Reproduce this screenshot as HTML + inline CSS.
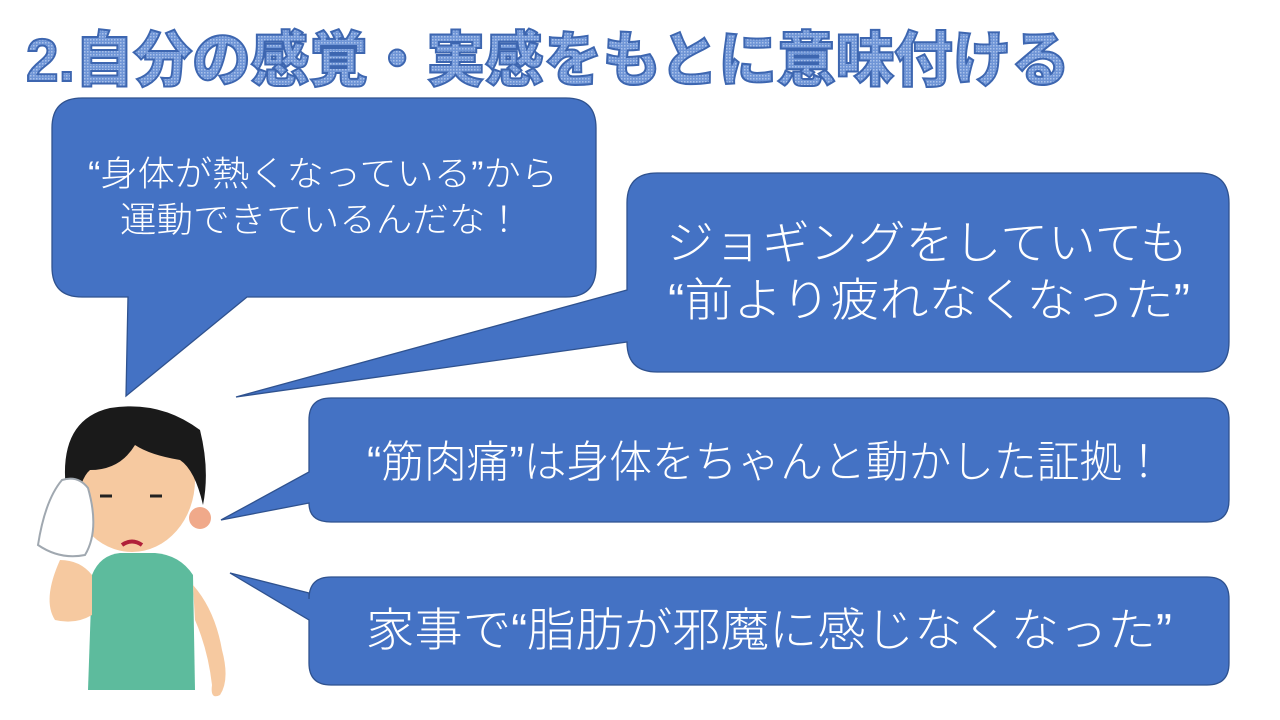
<!DOCTYPE html>
<html><head><meta charset="utf-8"><style>
html,body{margin:0;padding:0;background:#fff;}
svg{display:block}
.t{font-family:"Liberation Sans","Noto Sans CJK JP",sans-serif;font-weight:300;fill:#fff;}
</style></head><body>
<svg width="1280" height="720" viewBox="0 0 1280 720" xmlns="http://www.w3.org/2000/svg">
<defs>
<pattern id="dots" width="3" height="3" patternUnits="userSpaceOnUse">
<rect width="3" height="3" fill="#6f95d6"/><rect width="1.5" height="1.5" fill="#a9c1ea"/>
</pattern>
</defs>
<text x="26" y="81" font-family="'Liberation Sans','Noto Sans CJK JP',sans-serif" font-weight="900" font-size="60" fill="url(#dots)" stroke="#3d66b0" stroke-width="2" textLength="1044" lengthAdjust="spacingAndGlyphs">2.自分の感覚・実感をもとに意味付ける</text>

<g fill="#4472C4" stroke="#2F528F" stroke-width="1.3">
<path d="M82,98 H566 Q596,98 596,128 V267 Q596,297 566,297 H247 L126,396 L128,297 H82 Q52,297 52,267 V128 Q52,98 82,98 Z"/>
<path d="M657,173 H1199 Q1229,173 1229,203 V342 Q1229,372 1199,372 H657 Q627,372 627,342 L236,397 L627,290 V203 Q627,173 657,173 Z"/>
<path d="M331,398 H1207 Q1229,398 1229,420 V500 Q1229,522 1207,522 H331 Q309,522 309,503 L221,520 L309,472 V420 Q309,398 331,398 Z"/>
<path d="M331,577 H1207 Q1229,577 1229,599 V663 Q1229,685 1207,685 H331 Q309,685 309,663 V620 L230,573 L309,593 V599 Q309,577 331,577 Z"/>
</g>

<text class="t" x="88" y="186" font-size="35" textLength="470" lengthAdjust="spacingAndGlyphs">“身体が熱くなっている”から</text>
<text class="t" x="120" y="232" font-size="35" textLength="402" lengthAdjust="spacingAndGlyphs">運動できているんだな！</text>
<text class="t" x="666" y="259" font-size="46" textLength="522" lengthAdjust="spacingAndGlyphs">ジョギングをしていても</text>
<text class="t" x="668" y="316" font-size="46" textLength="522" lengthAdjust="spacingAndGlyphs">“前より疲れなくなった”</text>
<text class="t" x="367" y="477" font-size="44" textLength="798" lengthAdjust="spacingAndGlyphs">“筋肉痛”は身体をちゃんと動かした証拠！</text>
<text class="t" x="366" y="646" font-size="46" textLength="806" lengthAdjust="spacingAndGlyphs">家事で“脂肪が邪魔に感じなくなった”</text>

<!-- person -->
<g>
<path d="M92,575 L88,690 L195,690 L193,575 Q180,555 155,553 H120 Q100,555 92,575 Z" fill="#5dbb9d"/>
<path d="M193,585 Q215,610 222,650 Q230,680 220,695 Q210,700 212,685 Q208,650 195,620 Z" fill="#f6c9a0"/>
<path d="M60,560 Q42,600 55,620 Q75,625 92,615 L92,575 Q80,560 60,560 Z" fill="#f6c9a0"/>
<ellipse cx="132" cy="480" rx="63" ry="72" fill="#f6c9a0"/>
<circle cx="200" cy="518" r="11" fill="#f0a98a"/>
<path d="M66,490 Q58,420 110,408 Q160,400 200,430 Q210,470 203,505 Q195,470 180,460 Q150,455 135,445 Q120,470 90,470 Q78,480 75,520 Z" fill="#1a1a1a"/>
<path d="M62,480 Q45,500 38,545 Q60,560 85,555 Q100,530 88,488 Q78,475 62,480 Z" fill="#fff" stroke="#a0a8b0" stroke-width="2"/>
<path d="M122,545 Q132,538 142,545" stroke="#b0203a" stroke-width="4" fill="none"/>
<path d="M100,496 H112 M150,496 H162" stroke="#222" stroke-width="3"/>
</g>
</svg>
</body></html>
